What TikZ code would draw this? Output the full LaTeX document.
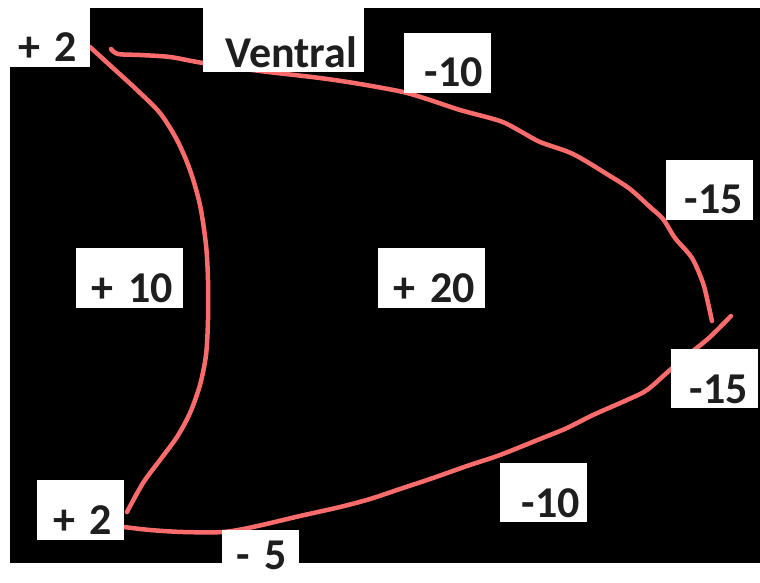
\documentclass[tikz,border=0pt]{standalone}
\usepackage{fontspec}
\setmainfont{Carlito}
\definecolor{salmon}{RGB}{250,108,108}
\definecolor{ink}{RGB}{30,30,30}
\tikzset{
  curve/.style={draw=salmon, line width=4.5pt, line cap=round, line join=round},
  lbl/.style n args={4}{fill=white, text=ink, align=right, outer sep=0pt, inner ysep=0pt,
    font=\fontsize{44}{50}\selectfont\bfseries,
    text width=#1, inner xsep=#2, text height=#3, text depth=#4, anchor=south west}
}
\begin{document}
\begin{tikzpicture}[x=1pt,y=-1pt]
\useasboundingbox (0,0) rectangle (760,583);
\fill[white] (0,0) rectangle (760,583);
\fill[black] (10,8) rectangle (760,563);
% fragment of a cut-off title glyph
\fill[ink] (498,0) arc[start angle=180, end angle=360, x radius=12, y radius=3] -- cycle;
% outline curves
\draw[curve] plot[smooth, tension=0.5] coordinates {(90,47) (113,68) (137,90) (160,113) (177,140) (190,170) (200,205) (206,245) (208,280) (208,320) (206,355) (200,385) (190,413) (177,437) (160,460) (143,483) (127,512)};
\draw[curve] plot[smooth, tension=0.5] coordinates {(111,49) (118,54) (140,55) (170,57) (203,63) (260,71) (320,78) (360,84) (403,92) (430,100) (460,110) (500,121) (520,131) (540,142) (573,154) (610,176) (630,189) (650,207) (663,219) (675,238) (692,258) (703,283) (708,303) (712,321)};
\draw[curve] plot[smooth, tension=0.5] coordinates {(731,316) (710,337) (693,351) (670,370) (647,390) (627,400) (593,415) (567,428) (540,439) (500,455) (467,466) (433,478) (400,489) (370,499) (340,507) (300,516) (253,527) (223,532) (183,532) (150,530) (124,527)};
% labels
\node[lbl={64pt}{13pt}{62pt}{5pt}] (tl) at (0,67) {+ 2};
\node[lbl={147pt}{7pt}{60pt}{4pt}] (ventral) at (203,72) {Ventral};
\node[lbl={71pt}{8pt}{54pt}{6pt}] (topten) at (404,93) {-10};
\node[lbl={67pt}{10pt}{53pt}{7pt}] (rtop) at (666,220) {-15};
\node[lbl={67pt}{10pt}{54pt}{5pt}] (rbot) at (671,408) {-15};
\node[lbl={73pt}{7pt}{54pt}{5pt}] (botten) at (500,522) {-10};
\node[lbl={63pt}{12pt}{54pt}{6pt}] (bl) at (37,540) {+ 2};
\node[lbl={53pt}{12pt}{39pt}{11pt}] (five) at (222,580) {- 5};
\node[lbl={87pt}{10pt}{54pt}{6pt}] (plusten) at (76,308) {+ 10};
\node[lbl={87pt}{10pt}{54pt}{6pt}] (plustwenty) at (378,308) {+ 20};
\end{tikzpicture}
\end{document}
